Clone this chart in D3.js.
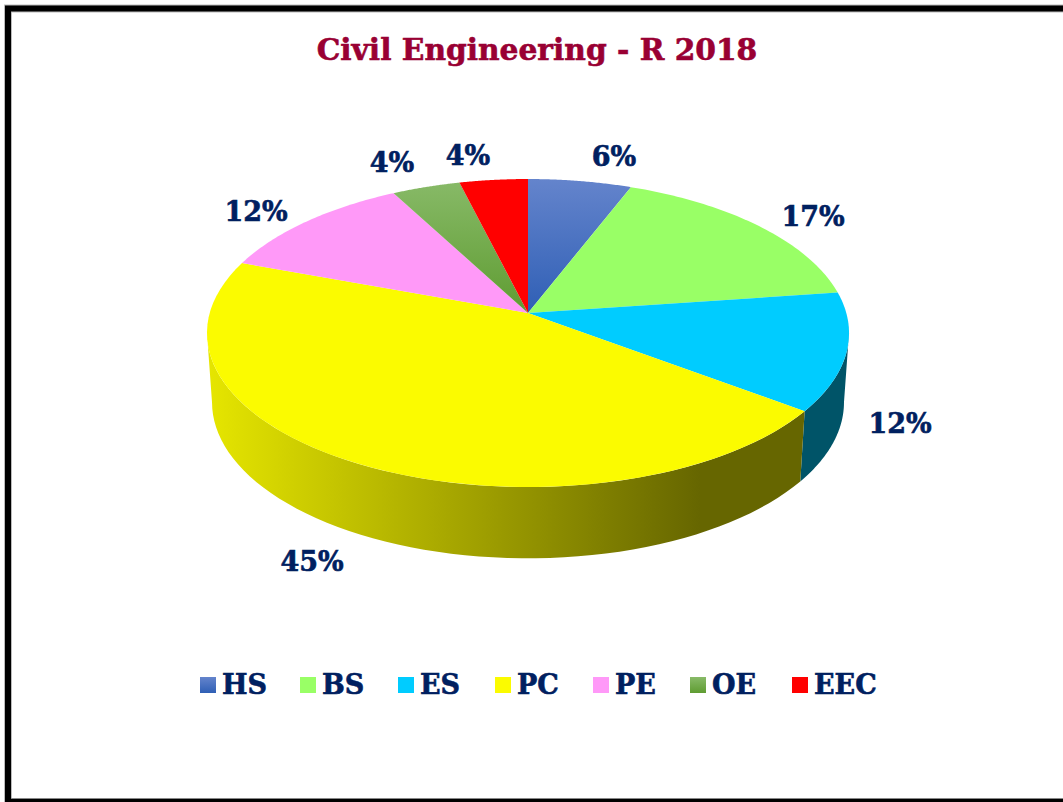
<!DOCTYPE html>
<html>
<head>
<meta charset="utf-8">
<script src="https://cdn.jsdelivr.net/npm/d3@7"></script>
<style>
  html, body { margin: 0; padding: 0; background: #fff; }
  svg { display: block; font-family: "DejaVu Serif", serif; font-weight: bold; }
</style>
</head>
<body>
<div id="chart"></div>
<script>
const categories = ["HS", "BS", "ES", "PC", "PE", "OE", "EEC"];
const shares = [5.9, 16.9, 12.4, 45.4, 11.6, 3.9, 3.9];
const colors = ["#4472c4", "#99ff66", "#00ccff", "#fbfb00", "#ff99f8", "#70ad47", "#ff0000"];
const titleText = "Civil Engineering - R 2018";

const width = 1063, height = 802;
const svg = d3.select("#chart").append("svg").attr("width", width).attr("height", height);
const defs = svg.append("defs");

// frame: no right side in the reference
svg.append("path")
  .attr("d", "M8 802V8.5H1063")
  .attr("fill", "none").attr("stroke", "#bbb").attr("stroke-width", 8);
svg.append("path")
  .attr("d", "M8 802V8.5H1063")
  .attr("fill", "none").attr("stroke", "#000").attr("stroke-width", 6);
svg.append("rect").attr("x", 5).attr("y", 799).attr("width", 1058).attr("height", 3).attr("fill", "#000");
svg.append("rect").attr("x", 11).attr("y", 798).attr("width", 1052).attr("height", 1).attr("fill", "#888");

svg.append("text")
  .attr("x", 537).attr("y", 60)
  .attr("text-anchor", "middle")
  .attr("font-size", 29.7)
  .attr("fill", "#990033")
  .attr("stroke", "#990033")
  .attr("stroke-width", 0.6)
  .text(titleText);

// perspective disc: the apex is not the centre of the drawn ellipse
const persp = 0.13;
const topDisc = { cx: 528, cy: 313, rx: 318.3, ry: 151.4 };
const baseDisc = { cx: 528, cy: 382, rx: 313.3, ry: 153.4 };
function project(disc, angle) {
  const x = Math.sin(angle), y = -Math.cos(angle);
  const w = 1 - persp * y;
  return [disc.cx + disc.rx * x / w, disc.cy + disc.ry * y / w];
}
function rim(disc, a0, a1) {
  return d3.range(0, 61).map((i) => project(disc, a0 + (a1 - a0) * i / 60));
}
const line = d3.line();

// the wall is only seen between the two tangent points of the disc
const wallStart = Math.acos(-persp);
const wallEnd = 2 * Math.PI - wallStart;

const pie = d3.pie().sort(null).value((d) => d.value);
const slices = pie(categories.map((name, i) => ({ name, value: shares[i], color: colors[i] })));

// gradients
const pcSide = defs.append("linearGradient").attr("id", "pcSide")
  .attr("gradientUnits", "userSpaceOnUse")
  .attr("x1", 207).attr("x2", 700).attr("y1", 0).attr("y2", 0);
pcSide.append("stop").attr("offset", 0).attr("stop-color", "#e6e600");
pcSide.append("stop").attr("offset", 1).attr("stop-color", "#666600");

function vertical(id, c0, c1, y0, y1) {
  const g = defs.append("linearGradient").attr("id", id)
    .attr("gradientUnits", "userSpaceOnUse")
    .attr("x1", 0).attr("x2", 0).attr("y1", y0).attr("y2", y1);
  g.append("stop").attr("offset", 0).attr("stop-color", c0);
  g.append("stop").attr("offset", 1).attr("stop-color", c1);
}
vertical("hsTop", "#6484cc", "#2f5fb5", 179, 313);
vertical("oeTop", "#88ba68", "#5f9c32", 179, 313);
vertical("hsKey", "#6484cc", "#2f5fb5", 0, 16);
vertical("oeKey", "#88ba68", "#5f9c32", 0, 16);

const sideFill = { ES: "#005468", PC: "url(#pcSide)" };
const topFill = { HS: "url(#hsTop)", OE: "url(#oeTop)" };
const keyFill = { HS: "url(#hsKey)", OE: "url(#oeKey)" };

// side walls first, the top face covers whatever is behind it
svg.append("g").selectAll("path")
  .data(slices.filter((d) => sideFill[d.data.name]))
  .join("path")
  .attr("fill", (d) => sideFill[d.data.name])
  .attr("d", (d) => {
    const a0 = Math.max(d.startAngle, wallStart);
    const a1 = Math.min(d.endAngle, wallEnd);
    return line(rim(topDisc, a0, a1).concat(rim(baseDisc, a0, a1).reverse())) + "Z";
  });

svg.append("g").selectAll("path")
  .data(slices)
  .join("path")
  .attr("fill", (d) => topFill[d.data.name] || d.data.color)
  .attr("d", (d) => line([[topDisc.cx, topDisc.cy]].concat(rim(topDisc, d.startAngle, d.endAngle))) + "Z");

// percent labels, placed by hand like the reference's outside-end labels
const labelAt = { HS: [614, 166], BS: [813, 226], ES: [900, 433], PC: [312, 571], PE: [256, 221], OE: [392, 172], EEC: [468, 165] };
svg.append("g").selectAll("text")
  .data(slices)
  .join("text")
  .attr("x", (d) => labelAt[d.data.name][0])
  .attr("y", (d) => labelAt[d.data.name][1])
  .attr("text-anchor", "middle")
  .attr("font-size", 27)
  .attr("fill", "#002060")
  .attr("stroke", "#002060")
  .attr("stroke-width", 0.6)
  .text((d) => Math.round(d.value) + "%");

// legend
const keyX = [200, 300, 398, 495, 593, 690, 792];
const key = svg.append("g").selectAll("g")
  .data(slices)
  .join("g")
  .attr("transform", (d, i) => `translate(${keyX[i]},677)`);
key.append("rect")
  .attr("width", 16).attr("height", 16)
  .attr("fill", (d) => keyFill[d.data.name] || d.data.color);
key.append("text")
  .attr("x", 22).attr("y", 17)
  .attr("font-size", 27)
  .attr("fill", "#002060")
  .attr("stroke", "#002060")
  .attr("stroke-width", 0.6)
  .text((d) => d.data.name);
</script>
</body>
</html>
